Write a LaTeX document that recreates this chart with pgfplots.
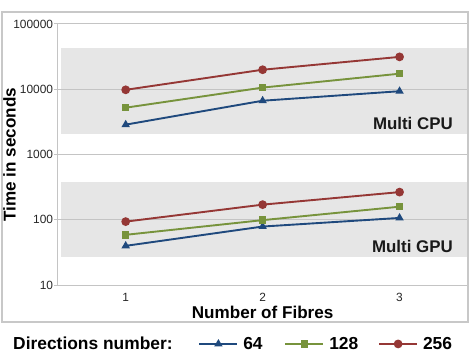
\documentclass[border=0pt]{standalone}
\usepackage{fontspec}
\setmainfont{Liberation Sans}
\usepackage{pgfplots}
\usepackage{pgfplotstable}
\pgfplotsset{compat=1.18}

\definecolor{dred}{HTML}{953735}
\definecolor{dgreen}{HTML}{77933C}
\definecolor{dblue}{HTML}{1F497D}
\definecolor{bandgray}{HTML}{E6E6E6}
\definecolor{gridgray}{HTML}{C4C4C4}
\definecolor{framegray}{HTML}{C8C8C8}

% Run times in seconds, per number of fibres
\pgfplotstableread{
fibres d64  d128  d256
1      2870 5220  9800
2      6670 10600 19900
3      9330 17300 31300
}\cputimes
\pgfplotstableread{
fibres d64 d128 d256
1      40  59   94
2      79  99   171
3      107 159  266
}\gputimes

\begin{document}
\begin{tikzpicture}
\begin{axis}[
  set layers,
  at={(56bp,66bp)}, anchor=south west,
  scale only axis, width=412bp, height=262bp,
  ymode=log, ymin=10, ymax=100000,
  xmin=0.5, xmax=3.5,
  xtick={1,2,3}, minor xtick={1.5,2.5},
  ytick={10,100,1000,10000,100000},
  yticklabels={10,100,1000,10000,100000},
  xticklabels={1,2,3},
  axis x line*=bottom, axis y line*=left,
  axis line style={gridgray, line width=1bp, -},
  ymajorgrids, major grid style={gridgray, line width=1bp},
  tick align=outside,
  major tick length=3bp, minor tick length=1.5bp,
  xtick style={draw=none},
  minor x tick style={gridgray, line width=1bp},
  ytick style={gridgray, line width=1bp},
  yminorticks=false,
  tick label style={font=\fontsize{12}{14}\selectfont, text=black!85},
  yticklabel style={inner sep=1bp},
  xticklabel style={yshift=-2bp},
  /pgf/number format/assume math mode=true,
  xlabel={Number of Fibres},
  ylabel={Time in seconds},
  label style={font=\bfseries\fontsize{17.2}{20}\selectfont},
  xlabel style={at={(axis description cs:0.5,-0.103)}, anchor=center},
  ylabel style={at={(axis description cs:-0.116,0.5)}, anchor=center},
  legend columns=-1,
  legend style={at={(axis description cs:-0.1197,-0.225)}, anchor=west,
    draw=none, fill=none, inner sep=0pt,
    font=\bfseries\fontsize{17.5}{20}\selectfont,
    /tikz/every even column/.append style={column sep=16bp},
    /tikz/every odd column/.append style={column sep=3bp}},
  legend image code/.code={\draw[mark repeat=2,mark phase=2]
    plot coordinates {(0bp,0bp) (19bp,0bp) (38bp,0bp)};},
  every axis plot/.append style={line width=1.9bp},
]
% shaded regions of the two configurations
\addplot[fill=bandgray, draw=none, forget plot, on layer=axis background]
  coordinates {(0.53,2100) (3.5,2100) (3.5,43000) (0.53,43000)} -- cycle;
\addplot[fill=bandgray, draw=none, forget plot, on layer=axis background]
  coordinates {(0.53,26.7) (3.5,26.7) (3.5,374) (0.53,374)} -- cycle;

\addlegendimage{empty legend}
\addlegendentry{Directions number:\rule{8bp}{0pt}}

% Multi GPU
\addplot[dblue, mark=triangle*, mark size=3bp] table[x=fibres, y=d64] {\gputimes};
\addlegendentry{64\rule{4bp}{0pt}}
\addplot[dgreen, mark=square*, mark size=2.8bp] table[x=fibres, y=d128] {\gputimes};
\addlegendentry{128\rule{2bp}{0pt}}
\addplot[dred, mark=*, mark size=3.4bp] table[x=fibres, y=d256] {\gputimes};
\addlegendentry{256}

% Multi CPU
\addplot[dblue, mark=triangle*, mark size=3bp, forget plot] table[x=fibres, y=d64] {\cputimes};
\addplot[dgreen, mark=square*, mark size=2.8bp, forget plot] table[x=fibres, y=d128] {\cputimes};
\addplot[dred, mark=*, mark size=3.4bp, forget plot] table[x=fibres, y=d256] {\cputimes};

\node[anchor=east, inner sep=0pt, font=\bfseries\fontsize{17}{20}\selectfont, text=black!90]
  at (axis cs:3.39,2970) {Multi CPU};
\node[anchor=east, inner sep=0pt, font=\bfseries\fontsize{17}{20}\selectfont, text=black!90]
  at (axis cs:3.39,38.7) {Multi GPU};
\end{axis}
% chart frame and page extent
\draw[framegray, line width=1.2bp] (0.6bp,29bp) rectangle (468bp,340bp);
\path (0,0) rectangle (473bp,352bp);
\end{tikzpicture}
\end{document}
